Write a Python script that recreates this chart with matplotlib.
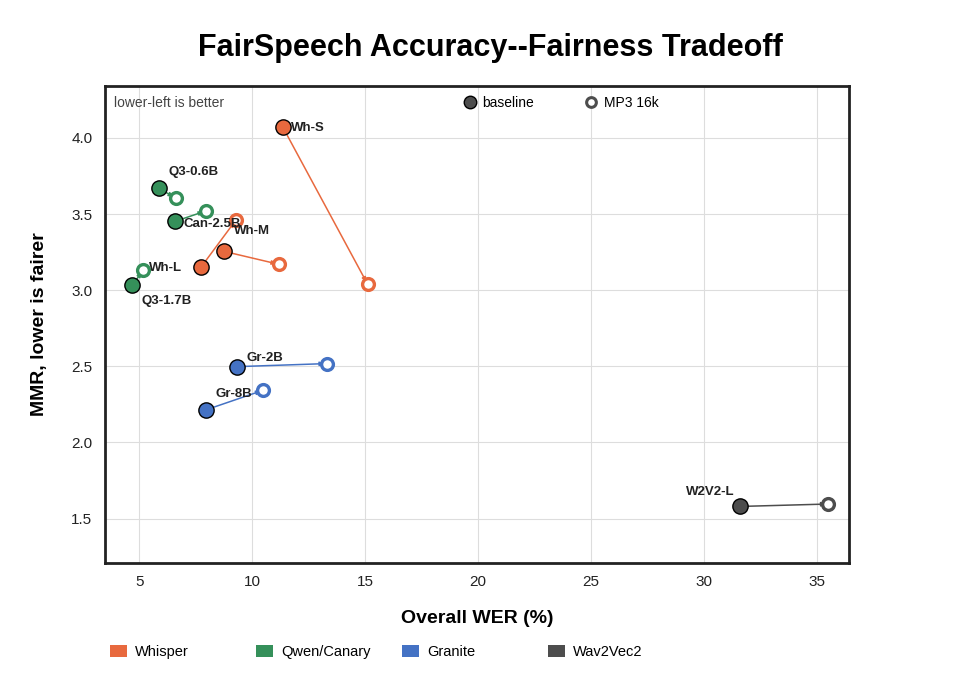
import matplotlib
matplotlib.use("Agg")
import matplotlib.pyplot as plt
from matplotlib.lines import Line2D
from matplotlib.patches import Patch

plt.rcParams['font.family'] = ['Liberation Sans', 'DejaVu Sans']

# data
models = ["Wh-S", "Wh-M", "Wh-L", "Q3-0.6B", "Can-2.5B", "Q3-1.7B", "Gr-2B", "Gr-8B", "W2V2-L"]
family = ["Whisper", "Whisper", "Whisper", "Qwen/Canary", "Qwen/Canary", "Qwen/Canary",
          "Granite", "Granite", "Wav2Vec2"]
base_wer = [11.35, 8.74, 7.72, 5.87, 6.58, 4.68, 9.33, 7.96, 31.6]
base_mmr = [4.07, 3.255, 3.15, 3.669, 3.452, 3.033, 2.498, 2.215, 1.58]
mp3_wer = [15.1, 11.17, 9.27, 6.60, 7.94, 5.17, 13.3, 10.48, 35.5]
mp3_mmr = [3.04, 3.17, 3.46, 3.605, 3.52, 3.13, 2.518, 2.343, 1.596]

families = ["Whisper", "Qwen/Canary", "Granite", "Wav2Vec2"]
colors = {"Whisper": "#E8693E", "Qwen/Canary": "#35905A", "Granite": "#4472C4", "Wav2Vec2": "#4D4D4D"}

# label offsets in pixels from the baseline point
label_off = [(8, -1), (10, 20), (-52, -1), (9, 16), (8, -3), (9, -16), (9, 9), (9, 16), (-54, 14)]

fig = plt.figure(figsize=(9.8, 7), dpi=100)
ax = fig.add_axes([0.107, 0.196, 0.759, 0.681])

for i, m in enumerate(models):
    c = colors[family[i]]
    ax.annotate("", xy=(mp3_wer[i], mp3_mmr[i]), xytext=(base_wer[i], base_mmr[i]),
                arrowprops=dict(arrowstyle="-|>", color=c, lw=1.1, mutation_scale=6,
                                shrinkA=0, shrinkB=2), zorder=2)
    ax.plot(base_wer[i], base_mmr[i], "o", ms=11, mfc=c, mec="black", mew=1.0, zorder=4)
    ax.plot(mp3_wer[i], mp3_mmr[i], "o", ms=8.5, mfc="white", mec=c, mew=2.4, zorder=4)
    ax.annotate(m, (base_wer[i], base_mmr[i]), xytext=label_off[i], textcoords="offset pixels",
                ha="left", va="center", fontsize=9.5, fontweight="bold", color="#222222", zorder=5)

ax.set_xlim(3.47, 36.4)
ax.set_ylim(1.21, 4.34)
ax.set_xticks([5, 10, 15, 20, 25, 30, 35])
ax.set_yticks([1.5, 2.0, 2.5, 3.0, 3.5, 4.0])
ax.set_yticklabels(["1.5", "2.0", "2.5", "3.0", "3.5", "4.0"])
ax.tick_params(length=0, labelsize=11, pad=9, colors="#222222")
ax.grid(True, color="#dddddd", lw=0.8)
ax.set_axisbelow(True)
for s in ax.spines.values():
    s.set_linewidth(2)
    s.set_color("#222222")

ax.set_xlabel("Overall WER (%)", fontsize=14, fontweight="bold", labelpad=15)
ax.set_ylabel("MMR, lower is fairer", fontsize=14, fontweight="bold", labelpad=17)
fig.suptitle("FairSpeech Accuracy--Fairness Tradeoff", fontsize=22, fontweight="bold", y=0.953)

ax.text(0.012, 0.965, "lower-left is better", transform=ax.transAxes, fontsize=10,
        color="#444444", ha="left", va="center")

marker_handles = [
    Line2D([], [], ls="none", marker="o", ms=9, mfc="#4D4D4D", mec="black", mew=1),
    Line2D([], [], ls="none", marker="o", ms=7, mfc="white", mec="#4D4D4D", mew=2.2),
]
for h, lab, x0 in zip(marker_handles, ["baseline", "MP3 16k"], [0.4724, 0.596]):
    fig.legend([h], [lab], loc="center left", bbox_to_anchor=(x0, 0.853), frameon=False,
               fontsize=10, handletextpad=0.4, handlelength=1.0, borderpad=0, borderaxespad=0)

for k, f in enumerate(families):
    fig.legend([Patch(facecolor=colors[f])], [f], loc="center left",
               bbox_to_anchor=(0.112 + k * 0.149, 0.069), frameon=False, fontsize=10.5,
               handlelength=1.2, handleheight=0.9, handletextpad=0.55, borderpad=0, borderaxespad=0)

fig.savefig("out.png", dpi=100)
